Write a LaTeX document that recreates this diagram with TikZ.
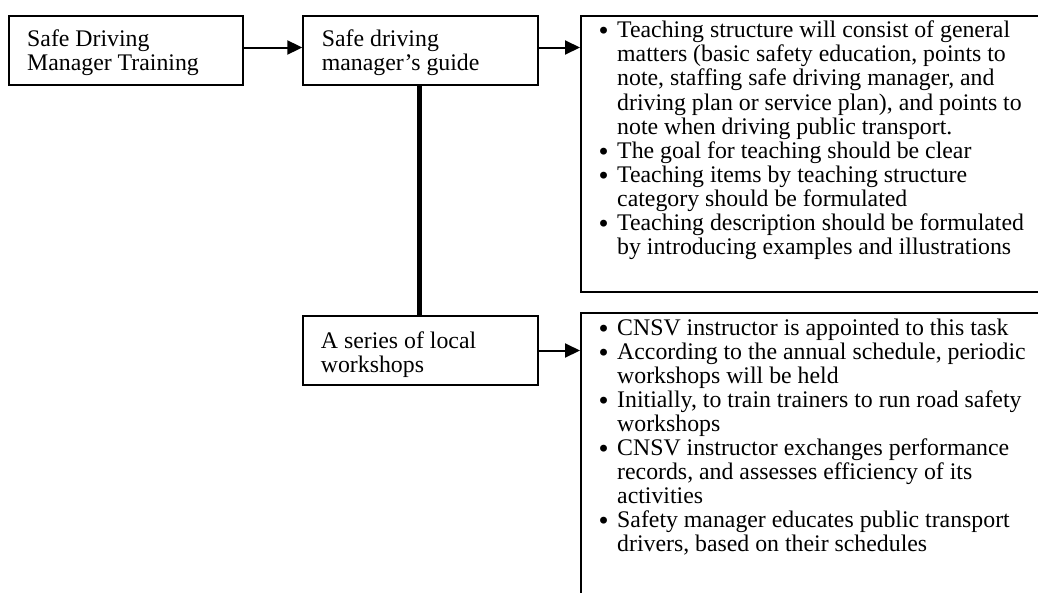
\documentclass[tikz,border=0pt]{standalone}
\usepackage{fontspec}
\setmainfont{Liberation Serif}
\newfontfamily\bulletfont{DejaVu Sans}
\usetikzlibrary{arrows.meta}
\newcommand{\mybullet}{\makebox[27pt][c]{\raisebox{-2pt}{\bulletfont •}}}
\begin{document}
\begin{tikzpicture}[x=1pt,y=-1pt,
  box/.style={draw, line width=2pt, rectangle, inner sep=0pt},
  lbl/.style={inner sep=0pt, anchor=base west, font=\fontsize{23.8}{24.1}\selectfont},
  arr/.style={line width=2pt, -{Triangle[length=15pt,width=14pt]}},
  thickline/.style={line width=5.5pt}]
\useasboundingbox (0,0) rectangle (1038,592);
\clip (0,0) rectangle (1038,592);
% boxes
\node[box, minimum width=233.4pt, minimum height=69pt] (b1) at (126,50.5) {};
\node[box, minimum width=235pt, minimum height=69pt] (b2) at (420.8,50.5) {};
\node[box, minimum width=479pt, minimum height=276pt] (b3) at (820.5,154) {};
\node[box, minimum width=235pt, minimum height=69pt] (b4) at (420.8,350.5) {};
\node[box, minimum width=479pt, minimum height=307pt] (b5) at (820.5,466.5) {};
% texts
\node[lbl] (t1) at (27,46.7) {\begin{tabular}[t]{@{}l@{}}Safe Driving\\Manager Training\end{tabular}};
\node[lbl] (t2) at (321.7,46.7) {\begin{tabular}[t]{@{}l@{}}Safe driving\\manager’s guide\end{tabular}};
\node[lbl] (t4) at (320.7,348) {\begin{tabular}[t]{@{}l@{}}A series of local\\workshops\end{tabular}};
\node[lbl] (t3) at (590,37.7) {\begin{tabular}[t]{@{}l@{}l@{}}
\mybullet & Teaching structure will consist of general\\
 & matters (basic safety education, points to\\
 & note, staffing safe driving manager, and\\
 & driving plan or service plan), and points to\\
 & note when driving public transport.\\
\mybullet & The goal for teaching should be clear\\
\mybullet & Teaching items by teaching structure\\
 & category should be formulated\\
\mybullet & Teaching description should be formulated\\
 & by introducing examples and illustrations
\end{tabular}};
\node[lbl] (t5) at (590,335) {\begin{tabular}[t]{@{}l@{}l@{}}
\mybullet & CNSV instructor is appointed to this task\\
\mybullet & According to the annual schedule, periodic\\
 & workshops will be held\\
\mybullet & Initially, to train trainers to run road safety\\
 & workshops\\
\mybullet & CNSV instructor exchanges performance\\
 & records, and assesses efficiency of its\\
 & activities\\
\mybullet & Safety manager educates public transport\\
 & drivers, based on their schedules
\end{tabular}};
% connectors
\coordinate (a1s) at ([yshift=3pt]b1.east);
\coordinate (a1e) at (a1s -| b2.west);
\draw[arr] (a1s) -- (a1e);
\coordinate (a2s) at ([yshift=3pt]b2.east);
\coordinate (a2e) at (a2s -| b3.west);
\draw[arr] (a2s) -- (a2e);
\coordinate (a3e) at (b4.east -| b5.west);
\draw[arr] (b4.east) -- (a3e);
\draw[thickline] ([xshift=-1.5pt]b2.south) -- ([xshift=-1.5pt]b4.north);
\end{tikzpicture}
\end{document}
